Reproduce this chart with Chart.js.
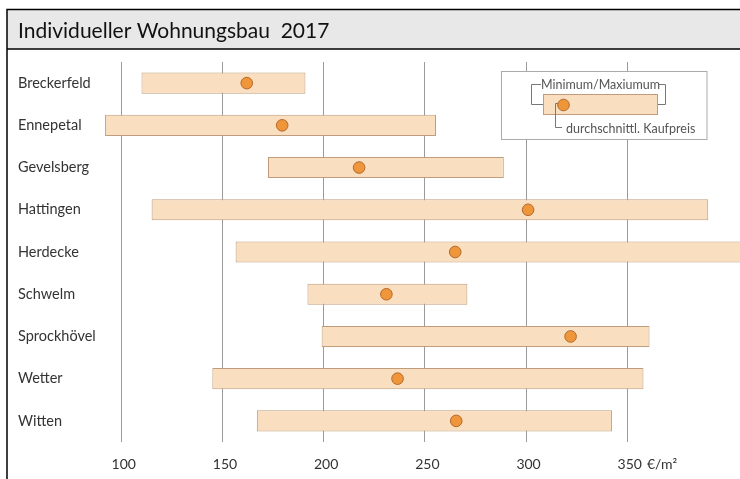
<!DOCTYPE html>
<html><head><meta charset="utf-8">
<script src="https://cdn.jsdelivr.net/npm/chart.js@4/dist/chart.umd.min.js"></script>
<style>html,body{margin:0;padding:0;background:#fff}#wrap{width:740px;height:479px;position:relative}</style>
</head><body><div id="wrap"><canvas id="c" width="740" height="479"></canvas></div>
<script>
const title = "Individueller Wohnungsbau  2017";
const cities = ["Breckerfeld","Ennepetal","Gevelsberg","Hattingen","Herdecke","Schwelm","Sprockhövel","Wetter","Witten"];
const minPrice = [110, 92, 172.5, 115, 156.5, 192, 199, 145, 167];
const maxPrice = [191, 255.5, 289, 390, 420, 271, 361, 358, 342.5];
const avgPrice = [162, 179.5, 217.5, 301, 265, 231, 322, 236.5, 265.5];
const xTicks = [100, 150, 200, 250, 300, 350];
const unit = "€/m²";
const legendRange = "Minimum/Maxiumum";
const legendAvg = "durchschnittl. Kaufpreis";

const FONT = "Lato, 'Open Sans', sans-serif";

const framePlugin = {
  id: 'frame',
  beforeDraw(chart) {
    const c = chart.ctx;
    c.save();
    c.fillStyle = '#fff';
    c.fillRect(0, 0, chart.width, chart.height);
    c.fillStyle = '#e8e8e8';
    c.fillRect(7, 9, chart.width - 7, 40);
    c.strokeStyle = '#000';
    c.lineWidth = 1.5;
    c.beginPath();
    c.moveTo(7, chart.height); c.lineTo(7, 9.5); c.lineTo(chart.width, 9.5);
    c.moveTo(7, 49); c.lineTo(chart.width, 49);
    c.stroke();
    c.fillStyle = '#111';
    c.font = "21px " + FONT;
    c.textBaseline = 'middle';
    c.textAlign = 'left';
    c.fillText(title, 18, 31);
    c.restore();
  },
  afterDraw(chart) {
    const c = chart.ctx;
    const xs = chart.scales.x;
    c.save();
    c.font = "14px " + FONT;
    c.fillStyle = '#333';
    c.textBaseline = 'middle';
    c.textAlign = 'left';
    const lastV = xTicks[xTicks.length - 1];
    const px = xs.getPixelForValue(lastV) + 2.5;
    const w = c.measureText(String(lastV)).width;
    c.fillText(unit, px + w / 2 + 5, 464);
    // legend box
    c.strokeStyle = '#aaa';
    c.lineWidth = 1;
    c.fillStyle = '#fff';
    c.fillRect(501.5, 71.5, 205.5, 68);
    c.strokeRect(501.5, 71.5, 205.5, 68);
    c.strokeStyle = '#777';
    c.beginPath();
    c.moveTo(543.5, 104.5); c.lineTo(531.5, 104.5); c.lineTo(531.5, 84.5); c.lineTo(541, 84.5);
    c.moveTo(657.5, 104.5); c.lineTo(665.5, 104.5); c.lineTo(665.5, 84.5); c.lineTo(659, 84.5);
    c.stroke();
    c.font = "12.5px " + FONT;
    c.fillStyle = '#555';
    c.textAlign = 'center';
    c.fillText(legendRange, 600.5, 84.5);
    c.fillStyle = '#f9dfbf';
    c.strokeStyle = '#bf9d7c';
    c.fillRect(543.5, 94.5, 114, 20);
    c.strokeRect(543.5, 94.5, 114, 20);
    c.strokeStyle = '#777';
    c.beginPath();
    c.moveTo(559, 103.5); c.lineTo(555.5, 103.5); c.lineTo(555.5, 127.5); c.lineTo(562, 127.5);
    c.stroke();
    c.beginPath();
    c.arc(563.5, 105, 5.8, 0, Math.PI * 2);
    c.fillStyle = '#f0963a';
    c.fill();
    c.strokeStyle = '#b4672c';
    c.stroke();
    c.fillStyle = '#555';
    c.textAlign = 'left';
    c.fillText(legendAvg, 566, 128.5);
    c.restore();
  }
};

new Chart(document.getElementById('c'), {
  type: 'bar',
  data: {
    labels: cities,
    datasets: [
      {
        type: 'line',
        indexAxis: 'y',
        data: avgPrice,
        showLine: false,
        pointRadius: 5.8,
        pointBackgroundColor: '#f0963a',
        pointBorderColor: '#b4672c',
        pointBorderWidth: 1,
        order: 0,
        clip: false
      },
      {
        type: 'bar',
        data: minPrice.map((v, i) => [v, maxPrice[i]]),
        backgroundColor: '#f9dfbf',
        borderColor: '#bf9d7c',
        borderWidth: 1,
        borderSkipped: false,
        barPercentage: 0.5,
        categoryPercentage: 1,
        order: 1
      }
    ]
  },
  options: {
    indexAxis: 'y',
    responsive: false,
    animation: false,
    events: [],
    layout: { autoPadding: false, padding: { top: 62, left: 18, right: 0, bottom: 0 } },
    plugins: { legend: { display: false }, tooltip: { enabled: false }, title: { display: false } },
    scales: {
      x: {
        type: 'linear',
        min: 89.5,
        max: 405.7,
        afterBuildTicks(scale) { scale.ticks = xTicks.map(v => ({ value: v })); },
        afterFit(scale) { scale.height = 37; },
        grid: { color: '#9a9a9a', lineWidth: 1, drawTicks: false },
        border: { display: false },
        ticks: {
          padding: 14,
          labelOffset: 2.5,
          color: '#333',
          font: { family: FONT, size: 14 },
          maxRotation: 0,
          autoSkip: false
        }
      },
      y: {
        type: 'category',
        afterFit(scale) { scale.width = 82; },
        grid: { display: false },
        border: { display: false },
        ticks: {
          crossAlign: 'far',
          padding: 0,
          color: '#333',
          font: { family: FONT, size: 14.5 }
        }
      }
    }
  },
  plugins: [framePlugin]
});
</script>
</body></html>
